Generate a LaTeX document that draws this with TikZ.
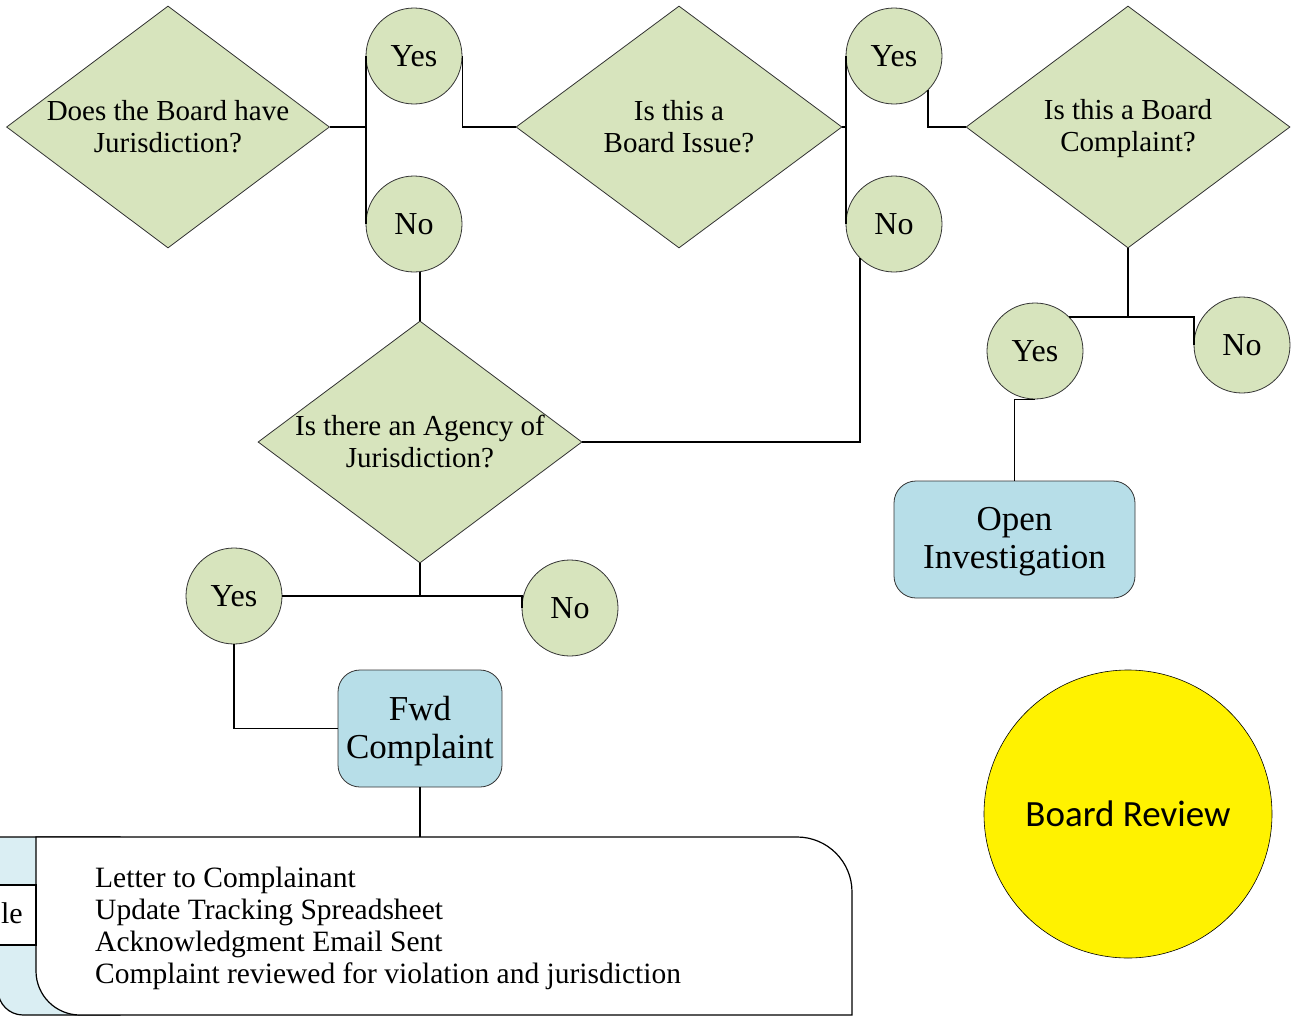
\documentclass[tikz,border=0pt]{standalone}
\usepackage{fontspec}
\setmainfont{Liberation Serif}
\newfontfamily\calibrifont{Carlito}
\usetikzlibrary{shapes.geometric}
\definecolor{dgreen}{HTML}{D7E4BD}
\definecolor{boxblue}{HTML}{B7DEE8}
\definecolor{paleblue}{HTML}{DAEEF3}
\begin{document}
\begin{tikzpicture}[x=1pt,y=-1pt,
  dia/.style={diamond, draw=black!80, line width=0.8pt, fill=dgreen, inner sep=0pt},
  ans/.style={circle, draw=black!80, line width=0.8pt, fill=dgreen, minimum size=96pt, inner sep=0pt, font=\fontsize{32}{36}\selectfont},
  qtext/.style={align=center, inner sep=0pt, font=\fontsize{29}{32}\selectfont},
  act/.style={rectangle, rounded corners=22pt, draw=black!80, line width=0.8pt, fill=boxblue, align=center, inner sep=0pt, font=\fontsize{35}{38}\selectfont},
  acttext/.style={align=center, inner sep=0pt, font=\fontsize{35}{38}\selectfont},
  conn/.style={line width=1.8pt, line join=miter}]
\useasboundingbox (0,0) rectangle (1291,1017);
\clip (0,0) rectangle (1291,1017);

% decision diamonds
\node[dia, minimum width=323pt, minimum height=242pt] (d1) at (168,127) {};
\node[qtext] (d1t) at (168,127) {Does the Board have\\Jurisdiction?};
\node[dia, minimum width=326pt, minimum height=242pt] (d2) at (679,127) {};
\node[qtext] (d2t) at (679,127) {Is this a\\Board Issue?};
\node[dia, minimum width=324pt, minimum height=242pt] (d3) at (1128,127) {};
\node[qtext] (d3t) at (1128,129) {Is this a Board\\Complaint?};
\node[dia, minimum width=324pt, minimum height=242pt] (d4) at (420,442) {};
\node[qtext] (d4t) at (420,441) {Is there an Agency of\\Jurisdiction?};

% answers
\node[ans] (yes1) at (414,56) {Yes};
\node[ans] (no1) at (414,224) {No};
\node[ans] (yes2) at (894,56) {Yes};
\node[ans] (no2) at (894,224) {No};
\node[ans] (yes3) at (1035,351) {Yes};
\node[ans] (no3) at (1242,345) {No};
\node[ans] (yes4) at (234,596) {Yes};
\node[ans] (no4) at (570,608) {No};

% actions
\node[act, minimum width=241pt, minimum height=117pt] (oi) at (1014.5,539.5) {};
\node[acttext] (oit) at (1014.5,541.5) {Open\\Investigation};
\node[act, minimum width=164pt, minimum height=117pt] (fwd) at (420,728.5) {};
\node[acttext] (fwdt) at (420,731) {Fwd\\Complaint};

% board review
\node[circle, draw=black, line width=0.6pt, fill=yellow, minimum size=288pt, inner sep=0pt, font=\calibrifont\fontsize{37}{40}\selectfont] (br) at (1128,814) {Board Review};

% bottom process box
\draw[line width=1.2pt, fill=paleblue] (-2,837) -- (120,837) -- (120,1015) -- (23,1015) arc[start angle=270, end angle=180, radius=25pt] -- cycle;
\draw[line width=1.2pt, fill=white] (36,837) -- (797,837) arc[start angle=90, end angle=0, radius=55pt] -- (852,1015) -- (80,1015) arc[start angle=270, end angle=180, radius=44pt] -- cycle;
\coordinate (boxtop) at (420,837);
\draw[line width=1.2pt, fill=white] (-50,885) rectangle (36,945);
\node[anchor=east, inner sep=0pt, font=\fontsize{30}{34}\selectfont] (le) at (23,913) {le};
\node[anchor=north west, align=left, inner sep=0pt, font=\fontsize{29.5}{32}\selectfont] (tasks) at (95,867)
  {Letter to Complainant\\Update Tracking Spreadsheet\\Acknowledgment Email Sent\\Complaint reviewed for violation and jurisdiction};

% connectors
\draw[conn] (d1.east) -| (yes1.west);
\draw[conn] (d1.east) -| (no1.west);
\draw[conn] (yes1.east) |- (d2.west);
\draw[conn] (d4.north |- no1.south) -- (d4.north);
\draw[conn] (d2.east) -| (yes2.west);
\draw[conn] (d2.east) -| (no2.west);
\draw[conn] (yes2.-45) |- (d3.west);
\draw[conn] (no2.-135) |- (d4.east);
\draw[conn] (d3.south) |- (yes3.45);
\draw[conn] (d3.south |- yes3.45) -| (no3.west);
\draw[conn] (yes3.south) -| (oi.north);
\draw[conn] (d4.south) |- (yes4.east);
\draw[conn] (d4.south |- yes4.east) -| (no4.west);
\draw[conn] (yes4.south) |- (fwd.west);
\draw[conn] (fwd.south) -- (boxtop);
\end{tikzpicture}
\end{document}
